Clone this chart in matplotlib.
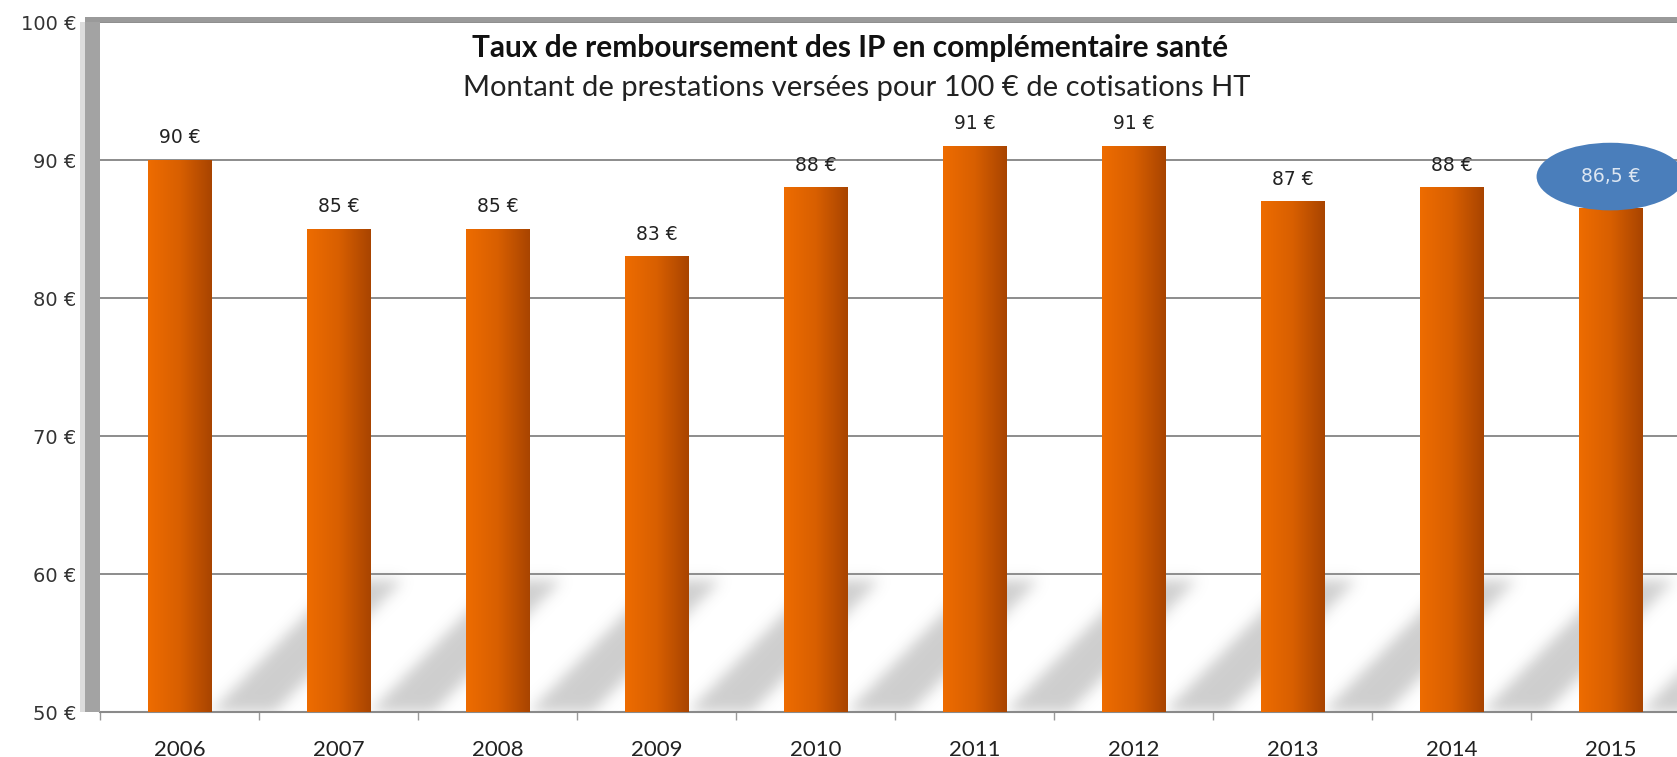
import numpy as np
import matplotlib.pyplot as plt
from matplotlib.patches import Rectangle, Ellipse
from matplotlib.colors import LinearSegmentedColormap

years = ['2006', '2007', '2008', '2009', '2010', '2011', '2012', '2013', '2014', '2015']
values = [90, 85, 85, 83, 88, 91, 91, 87, 88, 86.5]
value_labels = ['90 €', '85 €', '85 €', '83 €', '88 €', '91 €', '91 €', '87 €', '88 €', '86,5 €']
yticks = [50, 60, 70, 80, 90, 100]
ytick_labels = ['50 €', '60 €', '70 €', '80 €', '90 €', '100 €']

title = 'Taux de remboursement des IP en complémentaire santé'
subtitle = 'Montant de prestations versées pour 100 € de cotisations HT'

W, H = 1677, 757
fig = plt.figure(figsize=(W / 100, H / 100), dpi=100)
ax = fig.add_axes([100 / W, 45 / H, 1590 / W, 690 / H])

x = np.arange(len(years))
bw = 0.4
ymin, ymax = 50, 100
xlo, xhi = -0.5, len(years) - 0.5

# blurred diagonal shadows behind the bars
sh_top, sh_dx = 59.5, 0.8
gx = np.linspace(xlo, xhi, 1600)
gy = np.linspace(ymin, 64, 200)
GX, GY = np.meshgrid(gx, gy)
mask = np.zeros_like(GX)
t = (GY - ymin) / (sh_top - ymin)
for xi in x:
    xr = xi + bw / 2 + t * sh_dx
    mask[(GY <= sh_top) & (GX >= xr) & (GX <= xr + bw)] = 1.0
k = np.exp(-0.5 * (np.arange(-20, 21) / 7.0) ** 2)
k /= k.sum()
mask = np.apply_along_axis(lambda r: np.convolve(r, k, mode='same'), 1, mask)
mask = np.apply_along_axis(lambda c: np.convolve(c, k, mode='same'), 0, mask)
rgba = np.zeros(mask.shape + (4,))
rgba[..., :3] = 0.62
rgba[..., 3] = mask * 0.5
ax.imshow(rgba, extent=[xlo, xhi, ymin, 64], origin='lower', aspect='auto', zorder=1)

bars = ax.bar(x, np.array(values) - ymin, bottom=ymin, width=bw, color='#d25a00',
              zorder=3)

cmap = LinearSegmentedColormap.from_list('bar', ['#ee6c00', '#d85f00', '#a84400'])
grad = np.linspace(0, 1, 256).reshape(1, -1)
for b in bars:
    x0 = b.get_x()
    ax.imshow(grad, extent=[x0, x0 + b.get_width(), ymin, ymin + b.get_height()],
              aspect='auto', cmap=cmap, zorder=4, interpolation='bicubic')

# value labels
for xi, v, lab in zip(x[:-1], values[:-1], value_labels[:-1]):
    ax.annotate(lab, (xi, v), xytext=(0, 16), textcoords='offset points',
                ha='center', va='center', fontsize=13.5, family='DejaVu Sans',
                color='#222222')

# highlighted last value
ax.add_patch(Ellipse((x[-1], values[-1] + 2.3), 0.93, 4.9, fc='#4a7ebb', ec='none', zorder=6))
ax.text(x[-1], values[-1] + 2.3, value_labels[-1], ha='center', va='center',
        fontsize=13.5, family='DejaVu Sans', color='#dce6f2', zorder=7)

ax.set_xlim(xlo, xhi)
ax.set_ylim(ymin, ymax)

ax.set_yticks(yticks)
ax.set_yticklabels(ytick_labels, fontsize=14, family='DejaVu Sans', color='#333333')
ax.tick_params(axis='y', length=0, pad=17)
ax.set_xticks(x)
ax.set_xticklabels(years, fontsize=16, family='Lato', color='#222222')
ax.set_xticks(np.arange(len(years) + 1) - 0.5, minor=True)
ax.tick_params(axis='x', which='major', length=0, pad=20)
ax.tick_params(axis='x', which='minor', length=6, color='#999999', width=1)

ax.grid(axis='y', color='#6e6e6e', lw=1.1, zorder=2)
ax.set_axisbelow(True)
for s in ['left', 'right', 'top']:
    ax.spines[s].set_visible(False)
ax.spines['bottom'].set_color('#8a8a8a')
ax.spines['bottom'].set_linewidth(1.5)

# grey wall on the left and top border
ax.add_patch(Rectangle((-15 / 1590, 0), 15 / 1590, 1 + 5 / 690, transform=ax.transAxes,
                       fc='#a3a3a3', ec='none', clip_on=False, zorder=5))
ax.add_patch(Rectangle((-15 / 1590, 1), 1 + 15 / 1590, 5 / 690, transform=ax.transAxes,
                       fc='#9a9a9a', ec='none', clip_on=False, zorder=5))
ax.add_patch(Rectangle((-20 / 1590, 0), 5 / 1590, 1, transform=ax.transAxes,
                       fc='#dcdcdc', ec='none', clip_on=False, zorder=5))

fig.text(850 / W, 1 - 48 / H, title, ha='center', va='center', fontsize=21.5,
         fontweight='bold', family='Lato', color='#111111')
fig.text(857 / W, 1 - 88 / H, subtitle, ha='center', va='center', fontsize=21,
         family='Lato', color='#222222')

fig.savefig('out.png', dpi=100, facecolor='white')
